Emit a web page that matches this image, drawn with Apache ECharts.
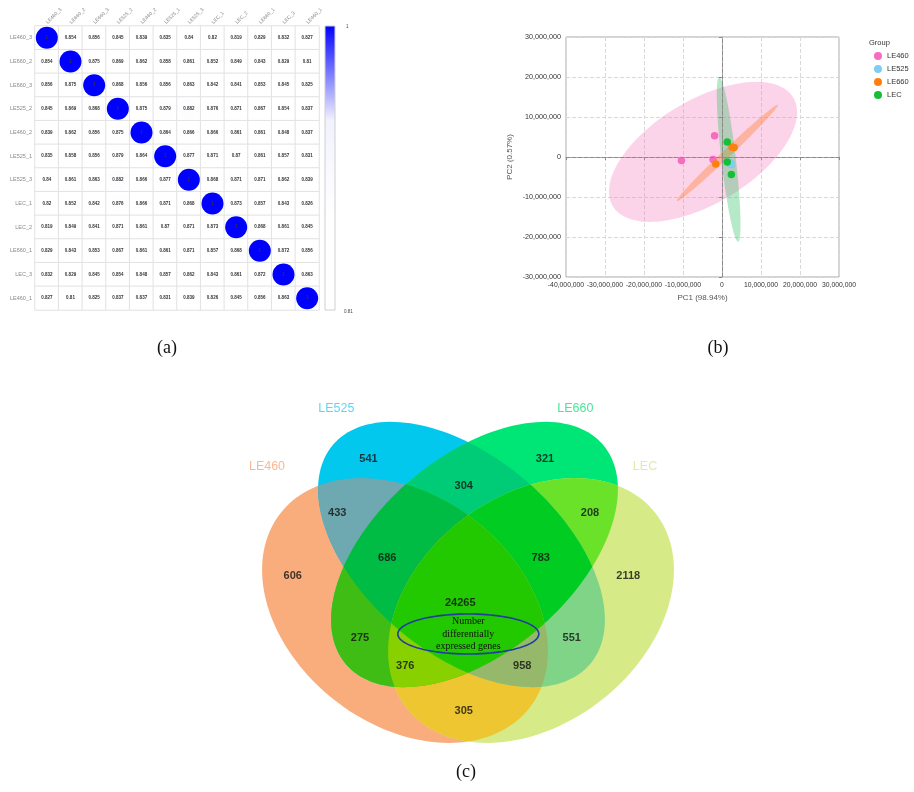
<!DOCTYPE html>
<html>
<head>
<meta charset="utf-8">
<script src="https://cdn.jsdelivr.net/npm/echarts@6/dist/echarts.min.js"></script>
<style>
html, body { margin: 0; padding: 0; background: #fff; }
#main { width: 914px; height: 792px; }
</style>
</head>
<body>
<div id="main"></div>
<script>
// (a) sample correlation matrix
var sampleNames = ['LE460_3', 'LE660_2', 'LE660_3', 'LE525_2', 'LE460_2', 'LE525_1', 'LE525_3', 'LEC_1', 'LEC_2', 'LE660_1', 'LEC_3', 'LE460_1'];
var corrRows = [
	[1, 0.854, 0.856, 0.845, 0.839, 0.835, 0.84, 0.82, 0.819, 0.829, 0.832, 0.827],
	[0.854, 1, 0.875, 0.869, 0.862, 0.858, 0.861, 0.852, 0.849, 0.843, 0.829, 0.81],
	[0.856, 0.875, 1, 0.868, 0.856, 0.856, 0.863, 0.842, 0.841, 0.853, 0.845, 0.825],
	[0.845, 0.869, 0.868, 1, 0.875, 0.879, 0.882, 0.876, 0.871, 0.867, 0.854, 0.837],
	[0.839, 0.862, 0.856, 0.875, 1, 0.864, 0.866, 0.866, 0.861, 0.861, 0.848, 0.837],
	[0.835, 0.858, 0.856, 0.879, 0.864, 1, 0.877, 0.871, 0.87, 0.861, 0.857, 0.831],
	[0.84, 0.861, 0.863, 0.882, 0.866, 0.877, 1, 0.868, 0.871, 0.871, 0.862, 0.839],
	[0.82, 0.852, 0.842, 0.876, 0.866, 0.871, 0.868, 1, 0.873, 0.857, 0.843, 0.826],
	[0.819, 0.849, 0.841, 0.871, 0.861, 0.87, 0.871, 0.873, 1, 0.868, 0.861, 0.845],
	[0.829, 0.843, 0.853, 0.867, 0.861, 0.861, 0.871, 0.857, 0.868, 1, 0.872, 0.856],
	[0.832, 0.829, 0.845, 0.854, 0.848, 0.857, 0.862, 0.843, 0.861, 0.872, 1, 0.863],
	[0.827, 0.81, 0.825, 0.837, 0.837, 0.831, 0.839, 0.826, 0.845, 0.856, 0.863, 1]
];
var corrMin = 0.81, corrMax = 1;

// (b) PCA scores (PC1, PC2)
var pcaGroups = ['LE460', 'LE525', 'LE660', 'LEC'];
var pcaLE460 = [[-1.9e6, 5.3e6], [-10.4e6, -0.85e6], [-2.3e6, -0.6e6]];
var pcaLE525 = [[1.8e6, -1.3e6], [2.1e6, -1.8e6], [2.3e6, -1.55e6]];
var pcaLE660 = [[-1.6e6, -1.75e6], [2.6e6, 2.45e6], [3.1e6, 2.35e6]];
var pcaLEC = [[1.35e6, 3.75e6], [1.35e6, -1.25e6], [2.4e6, -4.35e6]];
var pcaTicksX = [-40e6, 30e6, 10e6];
var pcaTicksY = [-30e6, 30e6, 10e6];

// (c) Venn counts, one per region (sets are indices into vennSets)
var vennSets = ['LE460', 'LE525', 'LE660', 'LEC'];
var vennRegions = [[0], [1], [2], [3], [0, 1], [1, 2], [2, 3], [0, 3], [0, 2], [1, 3], [0, 1, 2], [1, 2, 3], [0, 2, 3], [0, 1, 3], [0, 1, 2, 3]];
var vennCounts = [606, 541, 321, 2118, 433, 304, 208, 305, 275, 551, 686, 783, 376, 958, 24265];

// ---- layout / style ----
var sansFont = 'Liberation Sans';
var corrScale = ['#ffffff', '#ffffff', '#f2f2ff', '#0000ff'];
var pcaColors = ['#f86cbf', '#7dcdf4', '#ff7f0e', '#17bf38'];
var pcaFills = ['rgba(246,120,190,0.32)', 'rgba(110,196,240,0.3)', 'rgba(255,127,40,0.38)', 'rgba(40,190,90,0.34)'];
var ellipseRadius = 5.03; // sqrt(2*F(0.95;2,n-1)) on ML covariance, n = 3

// venn ellipses in panel-local pixels (x right, y down)
var vennEllipses = [
	{cx: 155, cy: 230.5, a: 158, b: 114, angle: 38},
	{cx: 211.5, cy: 174.5, a: 169, b: 98, angle: 40.5},
	{cx: 224.5, cy: 174.5, a: 169, b: 98, angle: -40.5},
	{cx: 281, cy: 230.5, a: 158, b: 114, angle: -38}
];
var vennRegionColors = ['#f9ad7c', '#02c8ee', '#00e676', '#d6ea88', '#6ea8b0', '#00cc78', '#6ae22a', '#eec632',
	'#3fbd14', '#80d488', '#00bb44', '#00cc22', '#88d000', '#96b86a', '#22c800'];
var vennLabelPos = [[42.7, 195.7], [118.5, 79], [295, 79], [378.3, 195.7], [87.3, 132.7], [213.7, 106], [340, 132.7], [213.7, 330.7],
	[110, 258.3], [321.7, 258.3], [137.3, 177.7], [290.7, 177.7], [155.3, 285.7], [272.3, 285.7], [210.3, 222.7]];
var vennSetPos = [[17, 86.7], [86.3, 29], [325.3, 29], [395, 87]];
var vennSetColors = ['#f8a676', '#3cc8f0', '#19e07a', '#d6ea88'];

function fmtBig(v){
	return Math.round(v).toLocaleString('en-US');
}

function confEllipse(pts, r, n){
	var m = pts.length, mx = 0, my = 0;
	pts.forEach(function(p){ mx += p[0]; my += p[1]; });
	mx /= m; my /= m;
	var sxx = 0, syy = 0, sxy = 0;
	pts.forEach(function(p){
		var dx = p[0] - mx, dy = p[1] - my;
		sxx += dx * dx; syy += dy * dy; sxy += dx * dy;
	});
	sxx /= (m - 1); syy /= (m - 1); sxy /= (m - 1);
	var tr = sxx + syy, det = sxx * syy - sxy * sxy;
	var d = Math.sqrt(Math.max(tr * tr / 4 - det, 0));
	var l1 = tr / 2 + d, l2 = Math.max(tr / 2 - d, 0);
	var ang = 0.5 * Math.atan2(2 * sxy, sxx - syy);
	var out = [];
	for(var i = 0; i < n; i++){
		var t = 2 * Math.PI * i / n;
		var u = r * Math.sqrt(l1) * Math.cos(t), v = r * Math.sqrt(l2) * Math.sin(t);
		out.push([mx + u * Math.cos(ang) - v * Math.sin(ang), my + u * Math.sin(ang) + v * Math.cos(ang)]);
	}
	return {center: [mx, my], pts: out};
}

var pcaData = [pcaLE460, pcaLE525, pcaLE660, pcaLEC];
var pcaEllipses = pcaData.map(function(g){ return confEllipse(g, ellipseRadius, 120); });

function vennPoly(api, k){
	var e = vennEllipses[k], pts = [];
	var phi = e.angle * Math.PI / 180;
	for(var i = 0; i < 160; i++){
		var t = 2 * Math.PI * i / 160;
		var u = e.a * Math.cos(t), v = e.b * Math.sin(t);
		pts.push(api.coord([e.cx + u * Math.cos(phi) - v * Math.sin(phi), e.cy + u * Math.sin(phi) + v * Math.cos(phi)]));
	}
	return pts;
}

// build cells
var corrCells = [];
for(var r = 0; r < corrRows.length; r++){
	for(var c = 0; c < corrRows[r].length; c++){
		corrCells.push([c, r, corrRows[r][c]]);
	}
}

var pcaSeries = pcaGroups.map(function(name, i){
	var s = {
		name: name,
		type: 'scatter',
		xAxisIndex: 1,
		yAxisIndex: 1,
		z: 4,
		symbolSize: 7.5,
		itemStyle: {color: pcaColors[i], opacity: 1},
		data: pcaData[i]
	};
	if(i == 0){
		s.markLine = {
			silent: true,
			symbol: ['none', 'none'],
			label: {show: false},
			lineStyle: {type: 'dashed', color: '#8a8a8a', width: 1},
			data: [{xAxis: 0}, {yAxis: 0}]
		};
	}
	return s;
});

var chart = echarts.init(document.getElementById('main'), null, {renderer: 'canvas'});

var option = {
	backgroundColor: '#fff',
	animation: false,
	textStyle: {fontFamily: sansFont},
	grid: [
		{left: 35, top: 26, width: 284, height: 284},
		{left: 566, top: 37, width: 273, height: 240, show: true, borderColor: '#a8a8a8', borderWidth: 1},
		{left: 250, top: 380, width: 440, height: 390}
	],
	xAxis: [
		{
			gridIndex: 0, type: 'category', position: 'top', data: sampleNames,
			axisLine: {show: false}, axisTick: {show: false},
			axisLabel: {rotate: -45, fontSize: 5, color: '#888', margin: 3, interval: 0}
		},
		{
			gridIndex: 1, type: 'value', min: pcaTicksX[0], max: pcaTicksX[1], interval: pcaTicksX[2],
			name: 'PC1 (98.94%)', nameLocation: 'middle', nameGap: 17,
			nameTextStyle: {fontSize: 8, color: '#555'},
			axisLine: {show: true, lineStyle: {color: '#a8a8a8'}},
			axisTick: {show: true, length: 3, lineStyle: {color: '#888'}},
			axisLabel: {fontSize: 6.8, color: '#333', margin: 5, formatter: fmtBig, showMinLabel: true, showMaxLabel: true, hideOverlap: false},
			splitLine: {show: true, lineStyle: {type: 'dashed', color: '#d9d9d9'}}
		},
		{gridIndex: 2, type: 'value', min: 0, max: 440, show: false}
	],
	yAxis: [
		{
			gridIndex: 0, type: 'category', inverse: true, data: sampleNames,
			axisLine: {show: false}, axisTick: {show: false},
			axisLabel: {fontSize: 5.5, color: '#888', margin: 3, interval: 0}
		},
		{
			gridIndex: 1, type: 'value', min: pcaTicksY[0], max: pcaTicksY[1], interval: pcaTicksY[2],
			name: 'PC2 (0.57%)', nameLocation: 'middle', nameGap: 52,
			nameTextStyle: {fontSize: 8, color: '#555'},
			axisLine: {show: true, lineStyle: {color: '#a8a8a8'}},
			axisTick: {show: true, length: 3, lineStyle: {color: '#888'}},
			axisLabel: {fontSize: 7.2, color: '#333', margin: 5, formatter: fmtBig, showMinLabel: true, showMaxLabel: true},
			splitLine: {show: true, lineStyle: {type: 'dashed', color: '#d9d9d9'}}
		},
		{gridIndex: 2, type: 'value', min: 0, max: 390, inverse: true, show: false}
	],
	visualMap: {
		show: false, type: 'continuous', seriesIndex: 1, dimension: 2,
		min: corrMin, max: corrMax, inRange: {color: corrScale}
	},
	legend: {
		data: pcaGroups, orient: 'vertical', left: 869, top: 47,
		icon: 'circle', itemWidth: 8, itemHeight: 8, itemGap: 5,
		textStyle: {fontSize: 7.5, color: '#333'}
	},
	graphic: [
		{type: 'text', left: 869, top: 39, style: {text: 'Group', fontSize: 7.5, fill: '#333', fontFamily: sansFont}},
		{type: 'rect', shape: {x: 325, y: 26, width: 10, height: 284},
			style: {stroke: '#cfcfcf', lineWidth: 1, fill: {type: 'linear', x: 0, y: 1, x2: 0, y2: 0,
				colorStops: corrScale.map(function(col, i){ return {offset: i / (corrScale.length - 1), color: col}; })}}},
		{type: 'text', x: 346, y: 24, style: {text: '1', fontSize: 4.5, fill: '#444', fontFamily: sansFont}},
		{type: 'text', x: 344, y: 309, style: {text: '0.81', fontSize: 4.5, fill: '#444', fontFamily: sansFont}},
		{type: 'text', x: 167, y: 348, style: {text: '(a)', fontSize: 18, fill: '#111', fontFamily: 'Liberation Serif', align: 'center', verticalAlign: 'middle'}},
		{type: 'text', x: 718, y: 348, style: {text: '(b)', fontSize: 18, fill: '#111', fontFamily: 'Liberation Serif', align: 'center', verticalAlign: 'middle'}},
		{type: 'text', x: 466, y: 772, style: {text: '(c)', fontSize: 18, fill: '#111', fontFamily: 'Liberation Serif', align: 'center', verticalAlign: 'middle'}}
	],
	series: [
		{
			type: 'heatmap', xAxisIndex: 0, yAxisIndex: 0,
			itemStyle: {color: '#fff', borderColor: '#e2e2e2', borderWidth: 1},
			label: {show: false},
			data: corrCells
		},
		{
			type: 'scatter', xAxisIndex: 0, yAxisIndex: 0, z: 3,
			symbolSize: function(v){ return 22 * Math.sqrt(v[2]); },
			itemStyle: {opacity: 1},
			label: {
				show: true, position: 'inside', fontSize: 4.5, fontWeight: 'bold', color: '#333',
				formatter: function(p){ return p.value[2]; }
			},
			data: corrCells
		},
		{
			type: 'custom', xAxisIndex: 1, yAxisIndex: 1, z: 2,
			renderItem: function(params, api){
				var e = pcaEllipses[params.dataIndex];
				return {
					type: 'polygon',
					shape: {points: e.pts.map(function(p){ return api.coord(p); })},
					style: {fill: pcaFills[params.dataIndex]}
				};
			},
			data: pcaEllipses.map(function(e){ return e.center; })
		}
	].concat(pcaSeries).concat([
		{
			type: 'custom', xAxisIndex: 2, yAxisIndex: 2, z: 2,
			renderItem: function(params, api){
				var sets = vennRegions[params.dataIndex];
				var el = {type: 'polygon', shape: {points: vennPoly(api, sets[sets.length - 1])},
					style: {fill: vennRegionColors[params.dataIndex]}};
				for(var i = sets.length - 2; i >= 0; i--){
					el = {type: 'group', children: [el], clipPath: {type: 'polygon', shape: {points: vennPoly(api, sets[i])}}};
				}
				return el;
			},
			data: vennLabelPos
		},
		{
			type: 'custom', xAxisIndex: 2, yAxisIndex: 2, z: 3,
			renderItem: function(params, api){
				var c = [218.3, 254], pts = [];
				for(var i = 0; i < 100; i++){
					var t = 2 * Math.PI * i / 100;
					pts.push(api.coord([c[0] + 70.5 * Math.cos(t), c[1] + 20 * Math.sin(t)]));
				}
				var p = api.coord(c);
				return {type: 'group', children: [
					{type: 'polygon', shape: {points: pts}, style: {fill: 'none', stroke: '#1f3f9e', lineWidth: 1.6}},
					{type: 'text', x: p[0], y: p[1], style: {text: 'Number\ndifferentially\nexpressed genes',
						fontFamily: 'Liberation Serif', fontSize: 10, lineHeight: 12.5, fill: '#111', align: 'center', verticalAlign: 'middle'}}
				]};
			},
			data: [[218.3, 254]]
		},
		{
			type: 'scatter', xAxisIndex: 2, yAxisIndex: 2, z: 5, symbolSize: 0,
			label: {
				show: true, position: 'inside', fontSize: 11, fontWeight: 'bold', color: '#111',
				formatter: function(p){ return p.value[2]; }
			},
			data: vennCounts.map(function(n, i){ return [vennLabelPos[i][0], vennLabelPos[i][1], n]; })
		},
		{
			type: 'scatter', xAxisIndex: 2, yAxisIndex: 2, z: 5, symbolSize: 0,
			label: {
				show: true, position: 'inside', fontSize: 12.5,
				formatter: function(p){ return p.value[2]; }
			},
			data: vennSets.map(function(s, i){
				return {value: [vennSetPos[i][0], vennSetPos[i][1], s], label: {color: vennSetColors[i]}};
			})
		}
	])
};

chart.setOption(option);
</script>
</body>
</html>
